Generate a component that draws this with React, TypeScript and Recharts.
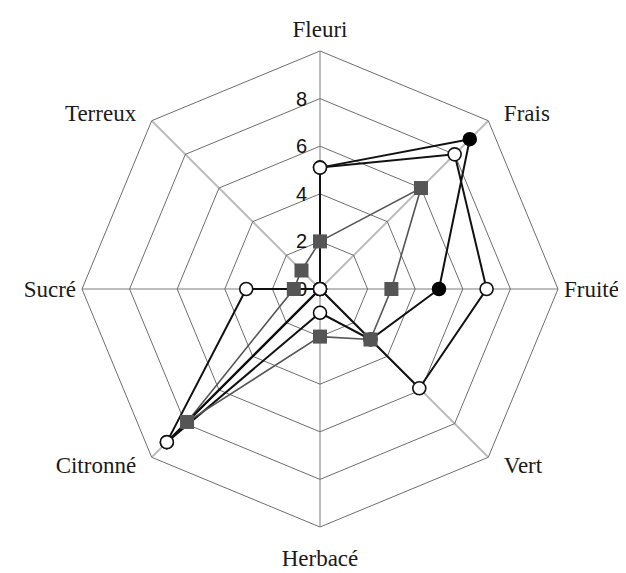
import React from 'react';
import { RadarChart, Radar, PolarGrid, PolarAngleAxis, PolarRadiusAxis } from 'recharts';

const categories = ['Fleuri', 'Frais', 'Fruité', 'Vert', 'Herbacé', 'Citronné', 'Sucré', 'Terreux'];
const seriesWhite = [5.1, 8.0, 7.0, 5.9, 0, 9.1, 3.1, 0];
const seriesBlack = [5.1, 8.9, 5.0, 3.0, 1.0, 9.1, 0, 0];
const seriesGray = [2.0, 6.0, 3.0, 3.0, 2.0, 7.9, 1.1, 1.1];
const radiusTicks = [0, 2, 4, 6, 8, 10];
const shownRadiusTicks = [0, 2, 4, 6, 8];
const blackHollowPoints = ['Herbacé'];

const data = categories.map((c, i) => ({
  subject: c,
  w: seriesWhite[i],
  b: seriesBlack[i],
  g: seriesGray[i],
}));

const renderAngleTick = (props: any) => {
  const { x, y, payload } = props;
  const a = (payload.coordinate * Math.PI) / 180;
  const c = Math.cos(a);
  const s = Math.sin(a);
  const anchor = c > 0.3 ? 'start' : c < -0.3 ? 'end' : 'middle';
  let px = x + 6 * c;
  const py = y - 6 * s;
  let dy = 8;
  if (s > 0.9) dy = 0;
  else if (s < -0.9) dy = 25;
  else if (Math.abs(s) < 0.1) {
    dy = 8;
    px = x - 2 * c;
  } else {
    px = x + 14 * c;
    dy = s > 0 ? 10 : 6;
  }
  return (
    <text
      x={px}
      y={py + dy}
      textAnchor={anchor}
      fontFamily="'Liberation Serif', 'Times New Roman', serif"
      fontSize={23}
      fill="#1a1a1a"
    >
      {payload.value}
    </text>
  );
};

const renderRadiusTick = (props: any) => {
  const { x, y, payload } = props;
  if (!shownRadiusTicks.includes(payload.value)) return <g />;
  return (
    <text
      x={x - 13}
      y={y}
      textAnchor="end"
      dominantBaseline="central"
      fontFamily="'Liberation Sans', Arial, sans-serif"
      fontSize={20}
      fill="#111"
    >
      {payload.value}
    </text>
  );
};

const blackDot = (p: any) => {
  const hollow = blackHollowPoints.includes(p.payload?.subject);
  return (
    <circle
      key={`b-${p.index}`}
      cx={p.cx}
      cy={p.cy}
      r={6.5}
      fill={hollow ? '#ffffff' : '#000000'}
      stroke="#000"
      strokeWidth={1.5}
    />
  );
};

const whiteDot = (p: any) => (
  <circle key={`w-${p.index}`} cx={p.cx} cy={p.cy} r={6.5} fill="#ffffff" stroke="#111" strokeWidth={1.6} />
);

const squareDot = (p: any) => (
  <rect key={`g-${p.index}`} x={p.cx - 7} y={p.cy - 7} width={14} height={14} fill="#555555" />
);

export default function App() {
  return (
    <div style={{ width: 618, height: 565 }}>
      <style>{'svg { overflow: visible; }'}</style>
      <RadarChart
        width={618}
        height={565}
        data={data}
        cx={312}
        cy={281}
        outerRadius={238}
        margin={{ top: 0, right: 0, bottom: 0, left: 0 }}
      >
        <PolarGrid gridType="polygon" polarRadius={[]} stroke="#bdbdbd" strokeWidth={2} />
        <PolarGrid gridType="polygon" radialLines={false} stroke="#6e6e6e" strokeWidth={1} />
        <PolarAngleAxis dataKey="subject" tick={renderAngleTick} tickLine={false} axisLine={false} />
        <Radar
          dataKey="b"
          stroke="#111"
          strokeWidth={2}
          fill="none"
          fillOpacity={0}
          dot={blackDot}
          isAnimationActive={false}
        />
        <Radar
          dataKey="g"
          stroke="#555"
          strokeWidth={1.6}
          fill="none"
          fillOpacity={0}
          dot={squareDot}
          isAnimationActive={false}
        />
        <Radar
          dataKey="w"
          stroke="#111"
          strokeWidth={2}
          fill="none"
          fillOpacity={0}
          dot={whiteDot}
          isAnimationActive={false}
        />
        <PolarRadiusAxis
          angle={90}
          domain={[0, 10]}
          ticks={radiusTicks as any}
          tickCount={6}
          axisLine={false}
          tickLine={false}
          tick={renderRadiusTick}
        />
      </RadarChart>
    </div>
  );
}
